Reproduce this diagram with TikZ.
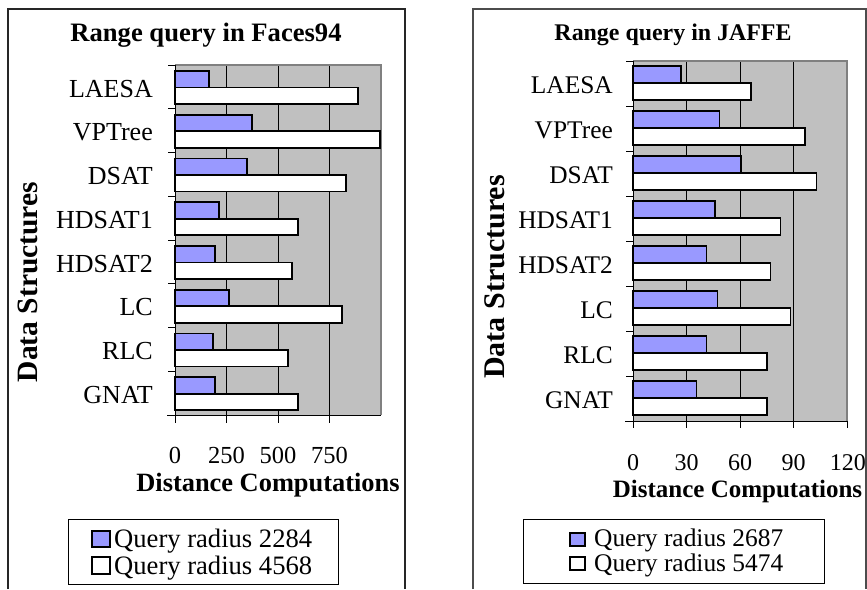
\documentclass[tikz,border=0pt]{standalone}
\usepackage{fontspec}
\setmainfont{Liberation Serif}
\definecolor{barblue}{HTML}{9999FF}
\definecolor{plotgray}{HTML}{C0C0C0}
\definecolor{edgegray}{HTML}{808080}
\begin{document}
\begin{tikzpicture}[x=1pt,y=-1pt,
  frameline/.style={line width=1.2pt, draw=black!85},
  plotedge/.style={line width=1.2pt, draw=edgegray},
  gridline/.style={line width=0.8pt, draw=black},
  axisline/.style={line width=1pt, draw=black},
  bluebar/.style={fill=barblue, draw=black, line width=1.6pt},
  whitebar/.style={fill=white, draw=black, line width=1.6pt},
  legbox/.style={draw=black, line width=1pt},
  catlabel/.style={anchor=base east, inner sep=0pt},
  ticklabel/.style={anchor=base, inner sep=0pt},
  boldlabel/.style={anchor=base, inner sep=0pt, font=\bfseries},
  legtext/.style={anchor=base west, inner sep=0pt}
]
\useasboundingbox (0,0) rectangle (867,589);

% ---------------- Faces94 panel ----------------
\draw[frameline] (8,589) -- (8,9) -- (405,9) -- (405,589);
\fill[plotgray] (175,65) rectangle (381,415);
\foreach \k in {1,2,3}
  \draw[gridline] (175+51.5*\k,65) -- (175+51.5*\k,415);
\draw[plotedge] (175,65) -- (381,65) -- (381,415);
\draw[axisline] (175,65) -- (175,415);
\draw[axisline] (167,415) -- (381,415);
\foreach \i in {0,...,8}
  \draw[axisline] (168,65+43.75*\i) -- (175,65+43.75*\i);
\foreach \k in {0,1,2,3}
  \draw[axisline] (175+51.5*\k,415) -- (175+51.5*\k,423);
\foreach \name/\b/\w [count=\i from 0] in
  {LAESA/165/888, VPTree/373/995, DSAT/350/830, HDSAT1/213/597,
   HDSAT2/194/568, LC/262/811, RLC/184/549, GNAT/194/597} {
  \pgfmathsetmacro\t{65+43.75*\i}
  \draw[bluebar] (175,\t+6) rectangle (175+0.206*\b,\t+22.5);
  \draw[whitebar] (175,\t+22.5) rectangle (175+0.206*\w,\t+39);
  \node[catlabel, font=\fontsize{26}{30}\selectfont] (fl\i) at (153,\t+32) {\name};
}
\foreach \v [count=\k from 0] in {0,250,500,750}
  \node[ticklabel, font=\fontsize{24.5}{28}\selectfont] (ft\k) at (175+51.5*\k,463) {\v};
\node[boldlabel, font=\bfseries\fontsize{26.4}{30}\selectfont] (fxt) at (268,491.5) {Distance Computations};
\node[boldlabel, font=\bfseries\fontsize{26.6}{30}\selectfont] (ftitle) at (206,41.5) {Range query in Faces94};
\node[boldlabel, rotate=90, font=\bfseries\fontsize{29.5}{32}\selectfont] (fyt) at (37,282) {Data Structures};
\draw[legbox] (68,519) rectangle (338,584);
\draw[bluebar, line width=1.2pt] (92,531) rectangle (110,547);
\draw[whitebar, line width=1.2pt] (92,557) rectangle (110,574);
\node[legtext, font=\fontsize{26.6}{30}\selectfont] (fleg1) at (114,547) {Query radius 2284};
\node[legtext, font=\fontsize{26.6}{30}\selectfont] (fleg2) at (114,574) {Query radius 4568};

% ---------------- JAFFE panel ----------------
\draw[frameline, draw=black!70] (473,589) -- (473,9) -- (866,9) -- (866,589);
\fill[plotgray] (633,61) rectangle (847,421);
\foreach \k in {1,2,3}
  \draw[gridline] (633+53.5*\k,61) -- (633+53.5*\k,421);
\draw[plotedge] (633,61) -- (847,61) -- (847,421);
\draw[axisline] (633,61) -- (633,421);
\draw[axisline] (625,421) -- (847,421);
\foreach \i in {0,...,8}
  \draw[axisline] (626,61+45*\i) -- (633,61+45*\i);
\foreach \k in {0,...,4}
  \draw[axisline] (633+53.5*\k,421) -- (633+53.5*\k,428);
\foreach \name/\b/\w [count=\i from 0] in
  {LAESA/26.9/66.2, VPTree/48.4/96.4, DSAT/60.4/103, HDSAT1/46/82.8,
   HDSAT2/41.3/77.2, LC/47.3/88.4, RLC/41.3/75, GNAT/35.7/75} {
  \pgfmathsetmacro\t{61+45*\i}
  \draw[bluebar] (633,\t+5) rectangle (633+1.7833*\b,\t+22);
  \draw[whitebar] (633,\t+22) rectangle (633+1.7833*\w,\t+39);
  \node[catlabel, font=\fontsize{25.4}{30}\selectfont] (jl\i) at (613,\t+32.5) {\name};
}
\foreach \v [count=\k from 0] in {0,30,60,90}
  \node[ticklabel, font=\fontsize{24}{28}\selectfont] (jt\k) at (633+53.5*\k,470) {\v};
\node[ticklabel, anchor=base east, font=\fontsize{24}{28}\selectfont] (jt4) at (866,470) {120};
\node[boldlabel, font=\bfseries\fontsize{25}{30}\selectfont] (jxt) at (737.5,497) {Distance Computations};
\node[boldlabel, font=\bfseries\fontsize{23.9}{28}\selectfont] (jtitle) at (673,40) {Range query in JAFFE};
\node[boldlabel, rotate=90, font=\bfseries\fontsize{30}{32}\selectfont] (jyt) at (504,277) {Data Structures};
\draw[legbox] (523,519) rectangle (824,583);
\draw[bluebar, line width=1.2pt] (570,533) rectangle (585,546);
\draw[whitebar, line width=1.2pt] (570,557) rectangle (585,570);
\node[legtext, font=\fontsize{25.4}{30}\selectfont] (jleg1) at (594,546) {Query radius 2687};
\node[legtext, font=\fontsize{25.4}{30}\selectfont] (jleg2) at (594,571) {Query radius 5474};
\end{tikzpicture}
\end{document}
